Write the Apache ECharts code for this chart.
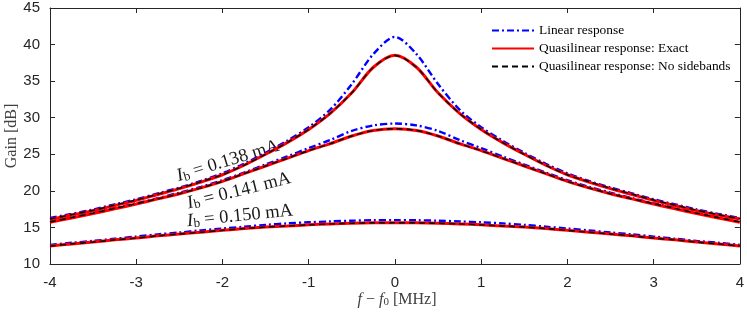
<!DOCTYPE html>
<html>
<head>
<meta charset="utf-8">
<script src="https://cdn.jsdelivr.net/npm/echarts@6/dist/echarts.min.js"></script>
<style>
html,body{margin:0;padding:0;background:#fff;}
#c{width:747px;height:312px;}
</style>
</head>
<body>
<div id="c"></div>
<script>
// Frequency offset f - f0 [MHz]
const freq = [-4,-3.75,-3.5,-3.25,-3,-2.75,-2.5,-2.25,-2,-1.75,-1.5,-1.25,-1,-0.75,-0.5,-0.25,0,0.25,0.5,0.75,1,1.25,1.5,1.75,2,2.25,2.5,2.75,3,3.25,3.5,3.75,4];

// Ib = 0.138 mA
const lin138   = [16.3,16.85,17.45,18.15,18.85,19.65,20.45,21.35,22.4,23.7,25.2,26.85,28.7,31.1,34.6,38.7,41.05,38.7,34.6,31.1,28.7,26.85,25.2,23.7,22.4,21.35,20.45,19.65,18.85,18.15,17.45,16.85,16.3];
const exact138 = [16.1,16.7,17.3,18.0,18.7,19.5,20.3,21.2,22.2,23.5,25.0,26.6,28.4,30.6,33.4,36.9,38.55,36.9,33.4,30.6,28.4,26.6,25.0,23.5,22.2,21.2,20.3,19.5,18.7,18.0,17.3,16.7,16.15];
const nosb138  = [16.15,16.75,17.35,18.05,18.75,19.55,20.35,21.25,22.2,23.5,25.0,26.6,28.4,30.6,33.4,36.9,38.5,36.9,33.4,30.6,28.4,26.6,25.0,23.5,22.2,21.25,20.35,19.55,18.75,18.05,17.35,16.75,16.2];

// Ib = 0.141 mA
const lin141   = [15.8,16.4,17.0,17.65,18.3,19.0,19.75,20.55,21.45,22.5,23.6,24.7,25.85,26.95,28.2,28.95,29.2,28.95,28.2,26.95,25.85,24.7,23.6,22.5,21.45,20.55,19.75,19.0,18.3,17.65,17.0,16.4,15.8];
const exact141 = [15.7,16.3,16.9,17.55,18.2,18.9,19.6,20.4,21.3,22.35,23.4,24.45,25.5,26.45,27.5,28.25,28.5,28.25,27.5,26.45,25.5,24.45,23.4,22.35,21.3,20.4,19.6,18.9,18.2,17.55,16.9,16.3,15.7];
const nosb141  = [15.75,16.35,16.95,17.6,18.25,18.9,19.6,20.4,21.3,22.35,23.4,24.45,25.5,26.45,27.5,28.25,28.5,28.25,27.5,26.45,25.5,24.45,23.4,22.35,21.3,20.4,19.6,18.9,18.25,17.6,16.95,16.35,15.75];

// Ib = 0.150 mA
const lin150   = [12.6,12.9,13.15,13.45,13.75,14.05,14.3,14.6,14.85,15.1,15.35,15.55,15.7,15.82,15.92,15.98,16.0,15.98,15.92,15.82,15.7,15.55,15.35,15.1,14.85,14.6,14.3,14.05,13.75,13.45,13.15,12.9,12.6];
const exact150 = [12.45,12.75,13.0,13.3,13.55,13.85,14.1,14.35,14.6,14.85,15.05,15.2,15.35,15.48,15.57,15.63,15.65,15.63,15.57,15.48,15.35,15.2,15.05,14.85,14.6,14.35,14.1,13.85,13.55,13.3,13.0,12.75,12.45];
const nosb150  = [12.45,12.75,13.0,13.3,13.55,13.85,14.1,14.35,14.6,14.85,15.05,15.2,15.35,15.48,15.57,15.63,15.65,15.63,15.57,15.48,15.35,15.2,15.05,14.85,14.6,14.35,14.1,13.85,13.55,13.3,13.0,12.75,12.45];

const seriesNames = ['Linear response','Quasilinear response: Exact','Quasilinear response: No sidebands'];
const xTicks = [-4,-3,-2,-1,0,1,2,3,4];
const yTicks = [10,15,20,25,30,35,40,45];

const pairs = v => freq.map((f,i)=>[f,v[i]]);
const AX = '#262626';
const styles = [
  {color:'#0000ff', width:2.4, type:[7,3,2,3]},
  {color:'#ff0000', width:3, type:'solid'},
  {color:'#000000', width:1.4, type:[6,4]}
];
const groups = [[lin138,exact138,nosb138],[lin141,exact141,nosb141],[lin150,exact150,nosb150]];
const series = [];
groups.forEach(g=>{
  g.forEach((vals,k)=>{
    series.push({
      name: seriesNames[k], type:'line', data: pairs(vals), smooth:0.3,
      symbol:'none', showSymbol:false, animation:false,
      lineStyle:{color:styles[k].color,width:styles[k].width,type:styles[k].type},
      itemStyle:{color:styles[k].color},
      z: 2+k
    });
  });
});

const chart = echarts.init(document.getElementById('c'));
const axisCommon = () => ({
  axisLine:{show:true,onZero:false,lineStyle:{color:AX,width:1}},
  axisTick:{show:true,inside:true,length:5,lineStyle:{color:AX}},
  splitLine:{show:false}
});
const subRich = (size,col) => ({
  i:{fontStyle:'italic',fontFamily:'Liberation Serif',fontSize:size,fill:col,color:col},
  s:{fontFamily:'Liberation Serif',fontSize:Math.round(size*0.68),fill:col,color:col,verticalAlign:'bottom',lineHeight:Math.round(size*0.55)}
});
chart.setOption({
  animation:false,
  grid:{left:50,right:5,top:8,bottom:48},
  xAxis:[
    Object.assign({type:'value',min:xTicks[0],max:xTicks[xTicks.length-1],interval:1,
      axisLabel:{color:AX,fontFamily:'Liberation Sans',fontSize:15,margin:11}},axisCommon()),
    Object.assign({type:'value',position:'top',min:xTicks[0],max:xTicks[xTicks.length-1],interval:1,
      axisLabel:{show:false}},axisCommon())
  ],
  yAxis:[
    Object.assign({type:'value',min:yTicks[0],max:yTicks[yTicks.length-1],interval:5,
      axisLabel:{color:AX,fontFamily:'Liberation Sans',fontSize:15,margin:10}},axisCommon()),
    Object.assign({type:'value',position:'right',min:yTicks[0],max:yTicks[yTicks.length-1],interval:5,
      axisLabel:{show:false}},axisCommon())
  ],
  legend:{
    orient:'vertical', left:486, top:19, itemWidth:42, itemHeight:12, itemGap:5,
    data:seriesNames,
    itemStyle:{opacity:0},
    textStyle:{fontFamily:'Liberation Serif',fontSize:13.4,color:'#000'}
  },
  series: series,
  graphic:[
    {type:'text',x:4,y:136,rotation:Math.PI/2,
      style:{text:'Gain [dB]',textAlign:'center',textVerticalAlign:'top',font:'16px "Liberation Serif"',fill:'#404040'}},
    {type:'text',x:397,y:300,
      style:{text:'{i|f} − {i|f}{s|0} [MHz]',textAlign:'center',textVerticalAlign:'middle',
        font:'16px "Liberation Serif"',fill:'#404040',rich:subRich(16,'#404040')}},
    {type:'text',x:228,y:161,rotation:17*Math.PI/180,
      style:{text:'{i|I}{s|b} = 0.138 mA',textAlign:'center',textVerticalAlign:'middle',
        font:'18.5px "Liberation Serif"',fill:'#1a1a1a',rich:subRich(18.5,'#1a1a1a')}},
    {type:'text',x:239,y:191,rotation:14*Math.PI/180,
      style:{text:'{i|I}{s|b} = 0.141 mA',textAlign:'center',textVerticalAlign:'middle',
        font:'18.5px "Liberation Serif"',fill:'#1a1a1a',rich:subRich(18.5,'#1a1a1a')}},
    {type:'text',x:240,y:216,rotation:5.8*Math.PI/180,
      style:{text:'{i|I}{s|b} = 0.150 mA',textAlign:'center',textVerticalAlign:'middle',
        font:'18.5px "Liberation Serif"',fill:'#1a1a1a',rich:subRich(18.5,'#1a1a1a')}}
  ]
});
</script>
</body>
</html>
